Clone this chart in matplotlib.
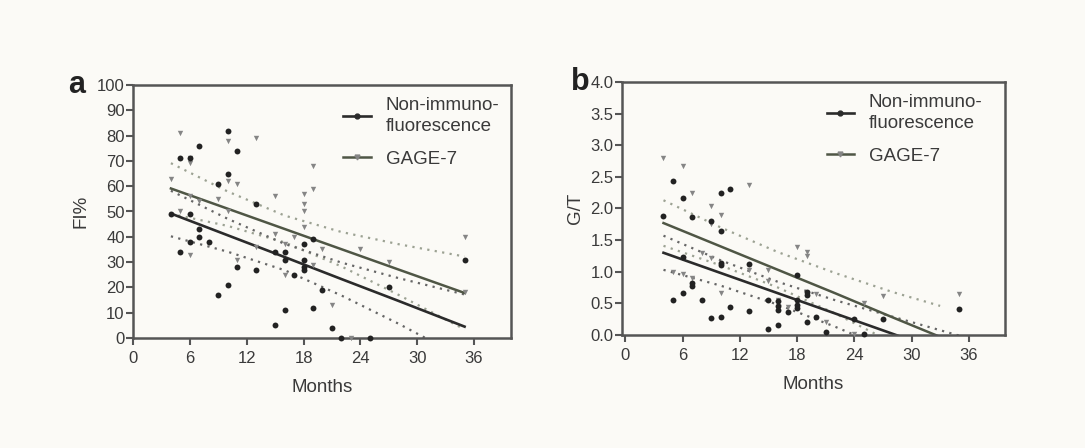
import matplotlib
matplotlib.use("Agg")
import matplotlib.pyplot as plt
from matplotlib.lines import Line2D

plt.rcParams["font.family"] = ["Liberation Sans", "DejaVu Sans"]

BG = "#fbfaf6"
DARK = "#2b2b2b"
GAGE_C = "#4f5645"
SPINE = "#555555"
TXT = "#3a3a3a"

# --- panel a: FI% ---
a_non_x = [4, 5, 5, 6, 6, 6, 7, 7, 7, 8, 9, 9, 10, 10, 10, 11, 11, 13, 13,
           15, 15, 16, 16, 16, 17, 18, 18, 18, 18, 19, 19, 20, 21, 22, 25, 27, 35]
a_non_y = [49, 34, 71, 38, 49, 71, 76, 43, 40, 38, 17, 61, 82, 65, 21, 74, 28, 53, 27,
           5, 34, 34, 31, 11, 25, 37, 31, 28, 27, 39, 12, 19, 4, 0, 0, 20, 31]
a_gage_x = [4, 5, 5, 6, 6, 6, 6, 7, 9, 10, 10, 10, 11, 11, 13, 13, 15, 15, 16, 16,
            17, 18, 18, 18, 18, 19, 19, 19, 20, 21, 23, 24, 27, 35, 35]
a_gage_y = [63, 81, 50, 71, 69, 33, 56, 54, 55, 78, 62, 50, 61, 31, 79, 36, 56, 41, 37, 25,
            40, 57, 53, 50, 44, 68, 59, 29, 35, 13, 0, 35, 30, 40, 18]

a_band_x = [4, 10, 16, 22, 28, 35]
a_non_fit = [49.2, 40.6, 32.0, 23.3, 14.7, 4.5]
a_non_hi = [58.2, 47.1, 37.2, 29.8, 23.7, 17.2]
a_non_lo = [40.2, 34.1, 26.8, 16.8, 5.7, -8.2]
a_gage_fit = [59.1, 51.1, 43.1, 35.1, 27.1, 17.8]
a_gage_hi = [69.1, 57.9, 48.4, 41.9, 37.1, 32.2]
a_gage_lo = [49.1, 44.3, 37.8, 28.3, 17.1, 3.4]

# --- panel b: G/T ---
b_non_x = [4, 5, 5, 6, 6, 6, 7, 7, 7, 8, 9, 9, 10, 10, 10, 10, 10, 11, 11, 13, 13,
           15, 15, 16, 16, 16, 16, 17, 18, 18, 18, 18, 19, 19, 19, 20, 21, 24, 25, 27, 35]
b_non_y = [1.88, 0.56, 2.43, 2.17, 1.23, 0.67, 1.87, 0.82, 0.77, 0.56, 1.80, 0.27,
           2.24, 1.64, 1.14, 1.10, 0.29, 2.31, 0.45, 1.13, 0.38,
           0.55, 0.10, 0.54, 0.46, 0.40, 0.16, 0.37, 0.95, 0.55, 0.47, 0.42,
           0.68, 0.63, 0.20, 0.29, 0.05, 0.26, 0.02, 0.25, 0.41]
b_gage_x = [4, 6, 7, 9, 10, 9, 5, 6, 7, 8, 9, 10, 13, 13, 15, 15, 16, 17, 18, 19, 19,
            20, 21, 24, 25, 27, 35]
b_gage_y = [2.80, 2.67, 2.24, 2.04, 1.90, 1.75, 1.00, 0.97, 0.90, 1.29, 1.21, 0.67,
            2.37, 1.03, 1.03, 0.86, 0.55, 0.45, 1.39, 1.32, 1.25,
            0.65, 0.21, 0.02, 0.50, 0.61, 0.65]

b_band_x = [4, 10, 16, 22, 28, 35]
b_non_fit = [1.30, 0.98, 0.66, 0.34, 0.02, -0.36]
b_non_hi = [1.57, 1.18, 0.84, 0.55, 0.29, -0.01]
b_non_lo = [1.03, 0.78, 0.48, 0.13, -0.25, -0.71]
b_gage_band_x = [4, 10, 16, 22, 28, 33]
b_gage_fit = [1.77, 1.40, 1.03, 0.66, 0.28, -0.03]
b_gage_hi = [2.13, 1.70, 1.31, 0.98, 0.68, 0.46]
b_gage_lo = [1.41, 1.10, 0.75, 0.34, -0.12, -0.50]

x_ticks = [0, 6, 12, 18, 24, 30, 36]


def panel(ax, letter, letter_x, leg_x, ylabel, ylim, yticks, ytl, non, gage, bands, xlim):
    ax.set_facecolor(BG)
    bx, nfit, nhi, nlo, gx, gfit, ghi, glo = bands
    dot = (0, (1, 2.4))
    ax.plot(gx, ghi, color="#9ca293", lw=1.6, ls=dot)
    ax.plot(gx, glo, color="#9ca293", lw=1.6, ls=dot)
    ax.plot(bx, nhi, color="#666666", lw=1.6, ls=dot)
    ax.plot(bx, nlo, color="#666666", lw=1.6, ls=dot)
    ax.plot(bx, nfit, color=DARK, lw=1.9)
    ax.plot(gx, gfit, color=GAGE_C, lw=1.8)
    ax.scatter(gage[0], gage[1], marker="v", s=15, color="#858585", lw=0, zorder=3, clip_on=False)
    ax.scatter(non[0], non[1], marker="o", s=18, color="#222222", lw=0, zorder=4, clip_on=False)

    ax.set_xlim(*xlim)
    ax.set_ylim(*ylim)
    ax.set_xticks(x_ticks)
    ax.set_yticks(yticks)
    ax.set_yticklabels(ytl)
    for s in ax.spines.values():
        s.set_color(SPINE)
        s.set_linewidth(1.8)
    ax.tick_params(axis="both", direction="out", length=5, width=1.5, color=SPINE,
                   labelsize=12, labelcolor=TXT)
    ax.tick_params(axis="y", pad=1)
    ax.tick_params(axis="x", pad=4)
    ax.set_xlabel("Months", fontsize=13.5, color=TXT, labelpad=9.5)
    ax.set_ylabel(ylabel, fontsize=13.5, color=TXT, labelpad=5)

    handles = [Line2D([], [], color=DARK, lw=1.9, marker="o", ms=3.5),
               Line2D([], [], color=GAGE_C, lw=1.8, marker="v", ms=3.5, mfc="#858585", mec="#858585")]
    leg = ax.legend(handles, ["Non-immuno-\nfluorescence", "GAGE-7"], loc="upper left",
                    bbox_to_anchor=(leg_x, 0.99), frameon=False, fontsize=13.5,
                    handlelength=1.45, handletextpad=0.8, labelspacing=0.85, borderpad=0,
                    labelcolor=TXT)
    for t in leg.get_texts():
        t.set_linespacing(1.3)
    ax.text(letter_x, 1.0, letter, transform=ax.transAxes, fontsize=22, fontweight="bold",
            ha="left", va="center", color="#222222")


fig = plt.figure(figsize=(10.85, 4.48), dpi=100, facecolor=BG)
ax_a = fig.add_axes([133 / 1085, 110 / 448, 378 / 1085, 253 / 448])
ax_b = fig.add_axes([622 / 1085, 113 / 448, 383 / 1085, 253 / 448])

panel(ax_a, "a", -0.172, 0.532, "FI%", (0, 100), range(0, 101, 10),
      [str(v) for v in range(0, 101, 10)],
      (a_non_x, a_non_y), (a_gage_x, a_gage_y),
      (a_band_x, a_non_fit, a_non_hi, a_non_lo, a_band_x, a_gage_fit, a_gage_hi, a_gage_lo),
      (0, 39.9))
b_ticks = [i * 0.5 for i in range(9)]
panel(ax_b, "b", -0.132, 0.51, "G/T", (0, 4), b_ticks, [f"{v:.1f}" for v in b_ticks],
      (b_non_x, b_non_y), (b_gage_x, b_gage_y),
      (b_band_x, b_non_fit, b_non_hi, b_non_lo, b_gage_band_x, b_gage_fit, b_gage_hi, b_gage_lo),
      (-0.35, 39.8))

fig.savefig("out.png", dpi=100, facecolor=BG)
